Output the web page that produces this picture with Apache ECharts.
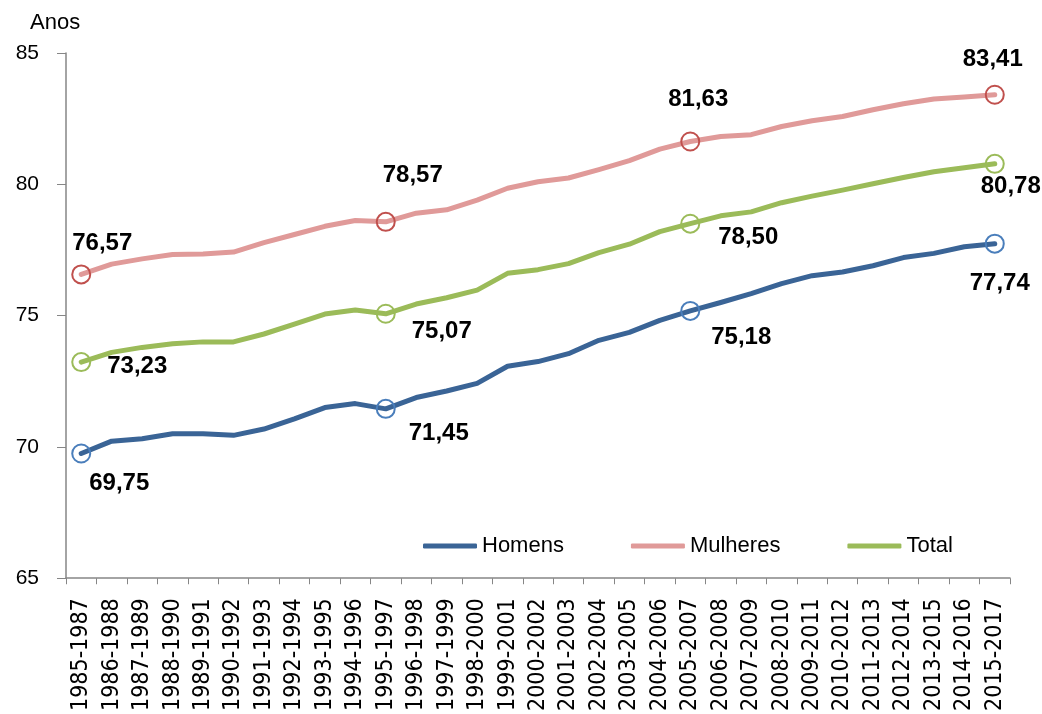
<!DOCTYPE html>
<html>
<head>
<meta charset="utf-8">
<script src="https://cdn.jsdelivr.net/npm/echarts@6/dist/echarts.min.js"></script>
<style>
html,body{margin:0;padding:0;background:#fff;}
#chart{width:1042px;height:714px;}
</style>
</head>
<body>
<div id="chart"></div>
<script>
var categories = ['1985-1987','1986-1988','1987-1989','1988-1990','1989-1991','1990-1992','1991-1993','1992-1994','1993-1995','1994-1996','1995-1997','1996-1998','1997-1999','1998-2000','1999-2001','2000-2002','2001-2003','2002-2004','2003-2005','2004-2006','2005-2007','2006-2008','2007-2009','2008-2010','2009-2011','2010-2012','2011-2013','2012-2014','2013-2015','2014-2016','2015-2017'];
var homens = [69.75,70.22,70.31,70.50,70.50,70.44,70.68,71.07,71.50,71.65,71.45,71.88,72.13,72.42,73.07,73.25,73.55,74.06,74.36,74.82,75.18,75.50,75.84,76.22,76.52,76.66,76.90,77.21,77.37,77.62,77.74];
var mulheres = [76.57,76.96,77.16,77.33,77.35,77.42,77.78,78.09,78.40,78.62,78.57,78.90,79.03,79.40,79.85,80.10,80.24,80.56,80.90,81.34,81.63,81.82,81.89,82.20,82.42,82.58,82.84,83.07,83.25,83.32,83.41];
var total = [73.23,73.60,73.79,73.93,74.00,74.00,74.30,74.68,75.06,75.21,75.07,75.44,75.68,75.97,76.61,76.75,76.98,77.40,77.72,78.20,78.50,78.80,78.95,79.30,79.55,79.78,80.02,80.26,80.48,80.63,80.78];
var yTicks = [65,70,75,80,85];
var seriesNames = ['Homens','Mulheres','Total'];
var markedIdx = [0,10,20,30];

// styles (kept separate from data)
var lineColors = ['#3A6496','#E09A99','#9BBB59'];
var markerColors = ['#4A7EBB','#C0504D','#9BBB59'];
var labelOffsets = [
  [[38,30],[53,25],[51,26],[5,40]],
  [[21,-31],[27,-46],[8,-42],[-2,-35]],
  [[56,4],[56,18],[58,14],[16,23]]
];

function fmt(v){ return v.toFixed(2).replace('.', ','); }

function buildData(values, s){
  return values.map(function(v, i){
    var k = markedIdx.indexOf(i);
    if (k < 0) return {value: v, symbolSize: 0, label: {show: false}};
    return {
      value: v,
      symbolSize: 18,
      itemStyle: {color: 'rgba(255,255,255,0)', borderColor: markerColors[s], borderWidth: 2},
      label: {
        show: true, position: 'inside', offset: labelOffsets[s][k],
        formatter: function(p){ return fmt(p.value); },
        color: '#000', fontWeight: 'bold', fontSize: 24, fontFamily: 'Liberation Sans'
      }
    };
  });
}

var allValues = [homens, mulheres, total];
var series = allValues.map(function(vals, s){
  return {
    name: seriesNames[s],
    type: 'line',
    data: buildData(vals, s),
    symbol: 'circle',
    showAllSymbol: true,
    color: lineColors[s],
    lineStyle: {color: lineColors[s], width: 5, cap: 'round', join: 'round'},
    itemStyle: {color: lineColors[s]},
    emphasis: {disabled: true},
    animation: false,
    z: 3 - s
  };
});

var chart = echarts.init(document.getElementById('chart'), null, {renderer: 'canvas'});
chart.setOption({
  backgroundColor: '#fff',
  animation: false,
  title: {text: 'Anos', left: 25, top: 7, textStyle: {fontFamily: 'Liberation Sans', fontSize: 22, fontWeight: 'normal', color: '#000'}},
  grid: {left: 66, right: 32, top: 53, bottom: 135, containLabel: false},
  legend: {
    data: seriesNames, left: 418, top: 530, icon: 'roundRect',
    itemWidth: 54, itemHeight: 5, itemGap: 67,
    itemStyle: {borderWidth: 0},
    textStyle: {fontFamily: 'Liberation Sans', fontSize: 22, color: '#000'}
  },
  xAxis: {
    type: 'category', data: categories, boundaryGap: true,
    axisLine: {lineStyle: {color: '#868686', width: 1.5}},
    axisTick: {show: true, alignWithLabel: false, length: 6, lineStyle: {color: '#868686'}, interval: 0},
    axisLabel: {rotate: 90, interval: 0, margin: 20, fontFamily: 'DejaVu Sans Condensed', fontSize: 23, color: '#000'},
    splitLine: {show: false}
  },
  yAxis: {
    type: 'value', min: yTicks[0], max: yTicks[yTicks.length-1], interval: 5,
    axisLine: {show: true, lineStyle: {color: '#868686', width: 1.5}},
    axisTick: {show: true, length: 9, inside: false, lineStyle: {color: '#868686'}},
    axisLabel: {margin: 27, fontFamily: 'Liberation Sans', fontSize: 21, color: '#000'},
    splitLine: {show: false}
  },
  series: series
});
</script>
</body>
</html>
